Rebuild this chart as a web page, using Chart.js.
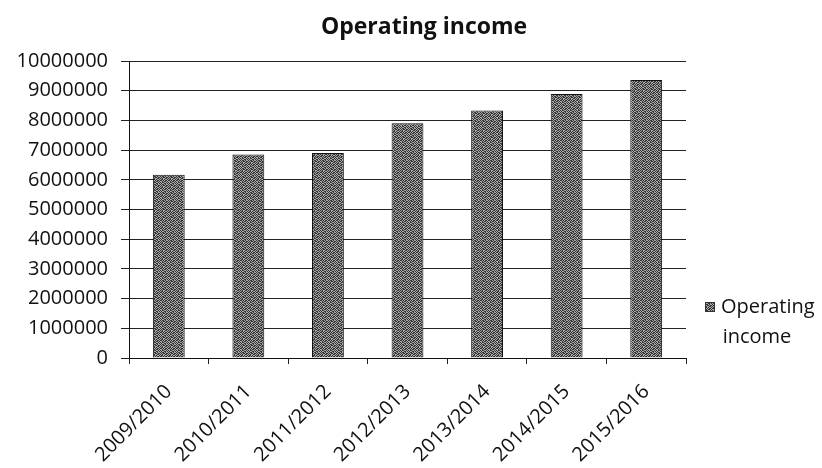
<!DOCTYPE html>
<html>
<head>
<meta charset="utf-8">
<script src="https://cdn.jsdelivr.net/npm/chart.js@4.4.0/dist/chart.umd.min.js"></script>
<style>
  html, body { margin: 0; padding: 0; background: #fff; }
  #wrap { width: 822px; height: 468px; }
</style>
</head>
<body>
<div id="wrap"><canvas id="myChart" width="822" height="468"></canvas></div>
<script>
// Operating income per financial year
const years = ['2009/2010', '2010/2011', '2011/2012', '2012/2013', '2013/2014', '2014/2015', '2015/2016'];
const income = [6170000, 6850000, 6900000, 7900000, 8330000, 8890000, 9360000];
const seriesName = 'Operating income';
const yTicks = [0, 1000000, 2000000, 3000000, 4000000, 5000000, 6000000, 7000000, 8000000, 9000000, 10000000];

const FONT = "'Open Sans', 'DejaVu Sans', sans-serif";

// stippled grey fill for the bars
function makeStipple() {
    const rows = [
        '10110100',
        '01011011',
        '10100110',
        '01101001',
        '11010110',
        '00101101',
        '10110010',
        '01001101'
    ];
    const c = document.createElement('canvas');
    c.width = 8; c.height = 8;
    const g = c.getContext('2d');
    rows.forEach((r, y) => {
        for (let x = 0; x < r.length; x++) {
            g.fillStyle = r[x] === '1' ? '#353535' : '#a8a8a8';
            g.fillRect(x, y, 1, 1);
        }
    });
    return g.createPattern(c, 'repeat');
}
const stipple = makeStipple();

// title over the plot and legend on the right, label wrapped on two lines
const decorations = {
    id: 'decorations',
    afterDraw(chart) {
        const ctx = chart.ctx;
        const label = chart.data.datasets[0].label;
        const words = label.split(' ');
        ctx.save();
        ctx.fillStyle = '#111';
        ctx.font = 'bold 23px ' + FONT;
        ctx.textAlign = 'center';
        ctx.textBaseline = 'middle';
        ctx.fillText(label, 424, 27);

        ctx.fillStyle = stipple;
        ctx.fillRect(705, 302, 10, 10);
        ctx.strokeStyle = '#333';
        ctx.lineWidth = 1;
        ctx.strokeRect(705.5, 302.5, 9, 9);
        ctx.font = '20px ' + FONT;
        ctx.fillStyle = '#111';
        ctx.textAlign = 'left';
        ctx.fillText(words[0], 721, 307);
        ctx.textAlign = 'center';
        ctx.fillText(words[1], 757, 337);
        ctx.restore();
    }
};

const ctx = document.getElementById('myChart').getContext('2d');
const myChart = new Chart(ctx, {
    type: 'bar',
    data: {
        labels: years,
        datasets: [{
            label: seriesName,
            data: income,
            backgroundColor: stipple,
            borderColor: '#111',
            borderWidth: 1,
            barPercentage: 0.4,
            categoryPercentage: 1
        }]
    },
    options: {
        responsive: false,
        animation: false,
        layout: {
            padding: { left: 0, right: 136, top: 61, bottom: 0 }
        },
        plugins: {
            legend: { display: false },
            tooltip: { enabled: false },
            title: { display: false }
        },
        scales: {
            y: {
                min: 0,
                max: 10000000,
                afterBuildTicks: (scale) => { scale.ticks = yTicks.map(v => ({ value: v })); },
                afterFit: (scale) => { scale.width = 129; },
                border: { display: true, color: '#111', width: 1 },
                grid: {
                    display: true,
                    color: '#222',
                    lineWidth: 1,
                    drawTicks: true,
                    tickLength: 8
                },
                ticks: {
                    color: '#111',
                    padding: 13,
                    font: { family: FONT, size: 20 },
                    callback: (v) => String(v)
                }
            },
            x: {
                afterFit: (scale) => { scale.height = 110; },
                border: { display: true, color: '#111', width: 1 },
                grid: {
                    display: true,
                    drawOnChartArea: false,
                    drawTicks: true,
                    tickLength: 6,
                    color: '#222',
                    offset: true
                },
                ticks: {
                    color: '#111',
                    minRotation: 45,
                    maxRotation: 45,
                    padding: 16,
                    font: { family: FONT, size: 20 }
                }
            }
        }
    },
    plugins: [decorations]
});
</script>
</body>
</html>
